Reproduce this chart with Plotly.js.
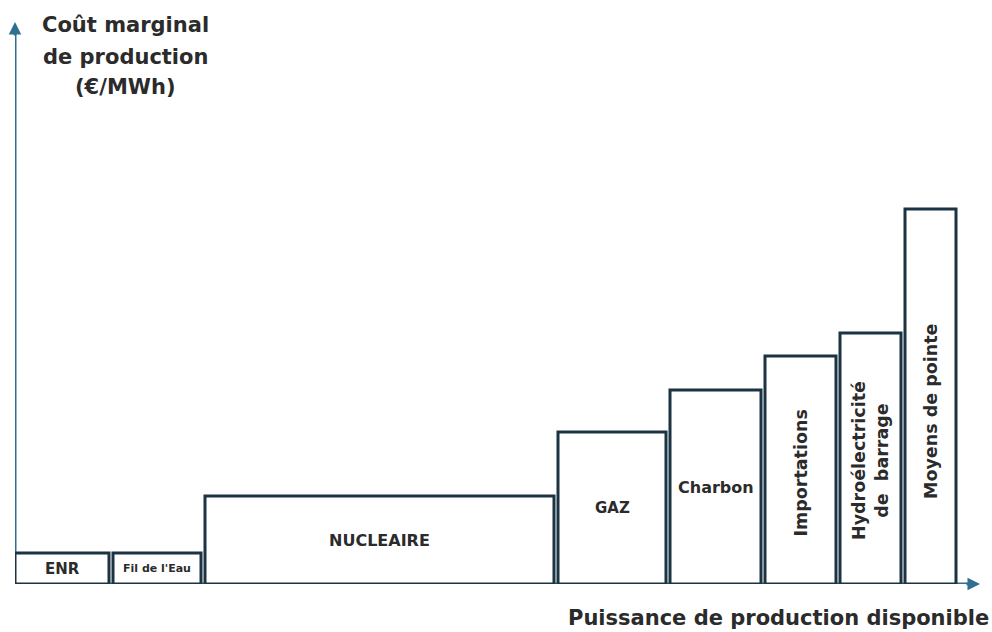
<!DOCTYPE html>
<html>
<head>
<meta charset="utf-8">
<script src="https://cdn.plot.ly/plotly-3.0.1.min.js"></script>
<style>
  html, body { margin: 0; padding: 0; background: #ffffff; }
  #chart { width: 992px; height: 632px; }
</style>
</head>
<body>
<div id="chart"></div>
<script>
// ---- Data (merit order: available capacity vs marginal production cost, arbitrary units) ----
const categories = ['ENR', "Fil de l'Eau", 'NUCLEAIRE', 'GAZ', 'Charbon', 'Importations', 'Hydroélectricité<br>de  barrage', 'Moyens de pointe'];
const capacity = [9.8, 9.2, 35.3, 11.2, 9.5, 7.5, 6.5, 5.5];
const marginalCost = [3.1, 3.1, 8.8, 15.2, 19.4, 22.8, 25.1, 37.5];
const yTitleLines = ['Coût marginal', 'de production', '(€/MWh)'];
const xTitle = 'Puissance de production disponible';

// ---- Styling ----
const GAP = 0.4;
const OUTLINE = '#1b3342';
const AXIS = '#2f6f91';
const TEXT = '#2b2b2b';
const FONT = 'DejaVu Sans, sans-serif';
const labelSize = [15, 11, 16, 15, 16, 17.5, 17.5, 17.5];
const labelAngle = [0, 0, 0, 0, 0, -90, -90, -90];
const labelShift = [0, 0, 0, 0, 0, -3, -2, -15];
const titleLineY = [25, 57, 87];

const xMax = 96.5, yMax = 56.2;

// cumulative positions from capacities
const starts = [];
let acc = 0;
capacity.forEach(c => { starts.push(acc); acc += c; });
const barWidth = capacity.map(c => c - GAP);
const centers = starts.map((s, i) => s + barWidth[i] / 2);

const trace = {
  type: 'bar',
  x: centers,
  y: marginalCost,
  width: barWidth,
  marker: { color: '#ffffff', line: { color: OUTLINE, width: 3 } },
  hoverinfo: 'skip',
  cliponaxis: false
};

const annotations = categories.map((c, i) => ({
  x: centers[i], y: marginalCost[i] / 2, xref: 'x', yref: 'y', yshift: labelShift[i],
  text: '<b>' + c + '</b>', showarrow: false, textangle: labelAngle[i],
  font: { family: FONT, size: labelSize[i], color: TEXT },
  xanchor: 'center', yanchor: 'middle'
}));

// axis arrowheads
annotations.push({
  x: xMax, y: 0, ax: xMax - 1.5, ay: 0, xref: 'x', yref: 'y', axref: 'x', ayref: 'y',
  text: '', showarrow: true, arrowhead: 2, arrowsize: 1, arrowwidth: 2.5, arrowcolor: AXIS
});
annotations.push({
  x: 0, y: yMax, ax: 0, ay: yMax - 1.5, xref: 'x', yref: 'y', axref: 'x', ayref: 'y',
  text: '', showarrow: true, arrowhead: 2, arrowsize: 1, arrowwidth: 2.5, arrowcolor: AXIS
});

const W = 992, H = 632, mL = 15, mR = 12, mT = 22, mB = 48;
const pw = W - mL - mR, ph = H - mT - mB;
const px2paperX = v => (v - mL) / pw;
const px2paperY = v => (H - v - mB) / ph;

// axis titles
yTitleLines.forEach((t, i) => annotations.push({
  x: px2paperX(125), y: px2paperY(titleLineY[i]), xref: 'paper', yref: 'paper', text: '<b>' + t + '</b>',
  showarrow: false, font: { family: FONT, size: 21, color: TEXT }, align: 'center',
  xanchor: 'center', yanchor: 'middle'
}));
annotations.push({
  x: px2paperX(778), y: px2paperY(618), xref: 'paper', yref: 'paper', text: '<b>' + xTitle + '</b>',
  showarrow: false, font: { family: FONT, size: 21, color: TEXT },
  xanchor: 'center', yanchor: 'middle'
});

const layout = {
  width: W, height: H,
  margin: { l: mL, r: mR, t: mT, b: mB, pad: 0 },
  paper_bgcolor: '#ffffff', plot_bgcolor: '#ffffff',
  showlegend: false,
  xaxis: { range: [0, xMax], visible: false, fixedrange: true },
  yaxis: { range: [0, yMax], visible: false, fixedrange: true },
  shapes: [
    { type: 'line', xref: 'x', yref: 'y', x0: 0, y0: 0, x1: xMax - 1, y1: 0, layer: 'below', line: { color: AXIS, width: 3 } },
    { type: 'line', xref: 'x', yref: 'y', x0: 0, y0: 0, x1: 0, y1: yMax - 1, layer: 'below', line: { color: AXIS, width: 3 } }
  ],
  annotations: annotations
};

Plotly.newPlot('chart', [trace], layout, { displayModeBar: false, staticPlot: true });
</script>
</body>
</html>
